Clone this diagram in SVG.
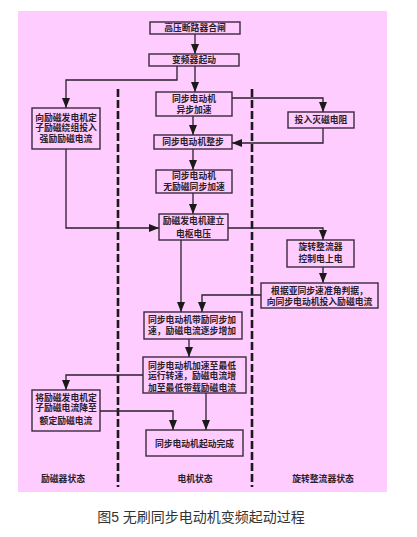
<svg xmlns="http://www.w3.org/2000/svg" width="417" height="537" viewBox="0 0 417 537">
<style>
.bx{fill:none;stroke:#3a2a3a;stroke-width:1.4}
.t{font-family:"Liberation Sans","Noto Sans CJK SC",sans-serif;font-size:8.8px;font-weight:bold;fill:#2a1e2a}
.c{text-anchor:middle}
.cn{fill:none;stroke:#2a1e2a;stroke-width:1.3}
.dash{stroke:#1a1a1a;stroke-width:2.6;stroke-dasharray:8 3;fill:none}
</style>
<defs>
<marker id="ar" markerUnits="userSpaceOnUse" markerWidth="10" markerHeight="10" viewBox="0 0 10 10" refX="10" refY="5" orient="auto">
<path d="M0,1 L10,5 L0,9 Z" fill="#1a1a1a"/>
</marker>
</defs>
<rect x="0" y="0" width="417" height="537" fill="#ffffff"/>
<rect x="18" y="11" width="369" height="481" fill="#ffccff"/>
<g id="lanes">
<line class="dash" x1="118" y1="89" x2="118" y2="487"/>
<line class="dash" x1="252" y1="89" x2="252" y2="487"/>
</g>
<g id="connectors">
<path class="cn" d="M195,34 V54" marker-end="url(#ar)"/>
<path class="cn" d="M195,66 V92" marker-end="url(#ar)"/>
<path class="cn" d="M177,66 V80 H66 V108" marker-end="url(#ar)"/>
<path class="cn" d="M232,98 H323 V112" marker-end="url(#ar)"/>
<path class="cn" d="M193,116 V135" marker-end="url(#ar)"/>
<path class="cn" d="M323,128 V143 H232" marker-end="url(#ar)"/>
<path class="cn" d="M193,149 V170" marker-end="url(#ar)"/>
<path class="cn" d="M193,193 V214" marker-end="url(#ar)"/>
<path class="cn" d="M66,149 V228 H159" marker-end="url(#ar)"/>
<path class="cn" d="M228,228 H323 V240" marker-end="url(#ar)"/>
<path class="cn" d="M323,267 V283" marker-end="url(#ar)"/>
<path class="cn" d="M261,295 H202 V312" marker-end="url(#ar)"/>
<path class="cn" d="M181,240 V312" marker-end="url(#ar)"/>
<path class="cn" d="M189,339 V357" marker-end="url(#ar)"/>
<path class="cn" d="M143,375 H66 V390" marker-end="url(#ar)"/>
<path class="cn" d="M100,411 H173 V430" marker-end="url(#ar)"/>
<path class="cn" d="M206,393 V430" marker-end="url(#ar)"/>
</g>
<g id="n1"><rect class="bx" x="150" y="22" width="90" height="12"/><text class="t c" x="195" y="31.3">高压断路器合闸</text></g>
<g id="n2"><rect class="bx" x="149" y="54" width="90" height="12"/><text class="t c" x="194" y="63.3">变频器起动</text></g>
<g id="n3"><rect class="bx" x="156" y="92" width="76" height="24"/><text class="t c" x="194" y="101.8">同步电动机</text><text class="t c" x="194" y="112.8">异步加速</text></g>
<g id="n4"><rect class="bx" x="32" y="108" width="68" height="41"/><text class="t c" x="66" y="121">向励磁发电机定</text><text class="t c" x="66" y="131">子励磁绕组投入</text><text class="t c" x="66" y="141.5">强励励磁电流</text></g>
<g id="n5"><rect class="bx" x="288" y="112" width="66" height="16"/><text class="t c" x="321" y="123.3">投入灭磁电阻</text></g>
<g id="n6"><rect class="bx" x="154" y="135" width="78" height="14"/><text class="t c" x="193" y="145.3">同步电动机整步</text></g>
<g id="n7"><rect class="bx" x="156" y="170" width="76" height="23"/><text class="t c" x="194" y="179">同步电动机</text><text class="t c" x="194" y="190.3">无励磁同步加速</text></g>
<g id="n8"><rect class="bx" x="159" y="214" width="69" height="26"/><text class="t c" x="193.5" y="223.8">励磁发电机建立</text><text class="t c" x="193.5" y="237">电枢电压</text></g>
<g id="n9"><rect class="bx" x="287" y="240" width="67" height="27"/><text class="t c" x="320.5" y="250.3">旋转整流器</text><text class="t c" x="320.5" y="262.3">控制电上电</text></g>
<g id="n10"><rect class="bx" x="261" y="283" width="117" height="25"/><text class="t c" x="319.5" y="294">根据亚同步速准角判据，</text><text class="t c" x="319.5" y="304.5">向同步电动机投入励磁电流</text></g>
<g id="n11"><rect class="bx" x="144" y="312" width="98" height="27"/><text class="t" x="148" y="323">同步电动机带励同步加</text><text class="t" x="148" y="333.6">速，励磁电流逐步增加</text></g>
<g id="n12"><rect class="bx" x="143" y="357" width="103" height="36"/><text class="t" x="148" y="368.5">同步电动机加速至最低</text><text class="t" x="148" y="378.6">运行转速，励磁电流增</text><text class="t" x="148" y="391">加至最低带载励磁电流</text></g>
<g id="n13"><rect class="bx" x="32" y="390" width="68" height="41"/><text class="t c" x="66" y="400.8">将励磁发电机定</text><text class="t c" x="66" y="410.8">子励磁电流降至</text><text class="t c" x="66" y="424">额定励磁电流</text></g>
<g id="n14"><rect class="bx" x="146" y="430" width="97" height="26"/><text class="t c" x="194.5" y="447">同步电动机起动完成</text></g>
<g id="labels">
<text class="t c" x="63" y="481.5">励磁器状态</text>
<text class="t c" x="195" y="481.5">电机状态</text>
<text class="t c" x="323" y="481.5">旋转整流器状态</text>
<text x="201" y="522" text-anchor="middle" style="font-family:'Liberation Sans','Noto Sans CJK SC',sans-serif;font-size:14px;fill:#333">图5 无刷同步电动机变频起动过程</text>
</g>
</svg>
